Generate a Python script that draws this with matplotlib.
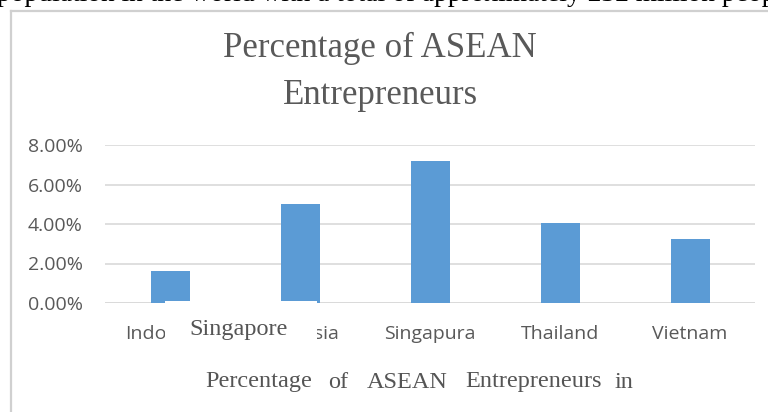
import matplotlib
matplotlib.use("Agg")
import matplotlib.pyplot as plt
from matplotlib.lines import Line2D
from matplotlib.patches import Rectangle

countries = ["Indonesia", "Malaysia", "Singapura", "Thailand", "Vietnam"]
percent = [1.6, 5.0, 7.2, 4.05, 3.25]
y_ticks = [0, 2, 4, 6, 8]
title_lines = ["Percentage of ASEAN", "Entrepreneurs"]
caption_words = ["Percentage", "of", "ASEAN", "Entrepreneurs", "in"]
top_text = "population in the world with a total of approximately 232 million people"
overlay_text = "Singapore"

W, H = 768, 412
fig = plt.figure(figsize=(W / 100, H / 100), dpi=100)
fig.patch.set_facecolor("white")

def fx(px):
    return px / W

def fy(py):
    return 1 - py / H

ax = fig.add_axes([fx(105), fy(303), fx(755) - fx(105), fy(145) - fy(303)])
x = range(len(countries))
ax.bar(x, percent, width=0.3, color="#5b9bd5", zorder=3)
ax.set_xlim(-0.5, len(countries) - 0.5)
ax.set_ylim(0, 8)
ax.set_yticks(y_ticks)
ax.set_yticklabels([f"{v:.2f}%" for v in y_ticks])
ax.set_xticks(list(x))
ax.set_xticklabels(countries)
for s in ax.spines.values():
    s.set_visible(False)
ax.grid(axis="y", color="#d9d9d9", linewidth=1.2, zorder=0)
ax.axhline(0, color="#d9d9d9", linewidth=1.2, zorder=2)
ax.tick_params(axis="both", length=0, colors="#595959", labelsize=14)
ax.tick_params(axis="y", pad=16)
ax.tick_params(axis="x", pad=16)
for lab in ax.get_xticklabels() + ax.get_yticklabels():
    lab.set_fontfamily("Open Sans")
    lab.set_color("#595959")

serif = ["Liberation Serif", "DejaVu Serif"]

# title
fig.text(fx(380), fy(48), title_lines[0], ha="center", va="center",
         fontsize=25, family=serif, color="#595959")
fig.text(fx(380), fy(96), title_lines[1], ha="center", va="center",
         fontsize=25, family=serif, color="#595959")

# frame of the chart box (scan)
fig.add_artist(Line2D([fx(11), fx(11)], [fy(11), fy(412)], color="#d0d0d0", linewidth=1.6))
fig.add_artist(Line2D([fx(11), fx(768)], [fy(11), fy(11)], color="#d0d0d0", linewidth=1.6))

# clipped document text at top
fig.text(fx(-3), fy(1.0), top_text, ha="left", va="baseline",
         fontsize=19.8, family=serif, color="black")

# white overlay box with "Singapore"
fig.add_artist(Rectangle((fx(165), fy(348)), fx(317) - fx(165), fy(301) - fy(348),
                         transform=fig.transFigure, facecolor="white",
                         edgecolor="none", zorder=10))
fig.text(fx(239), fy(329), overlay_text, ha="center", va="center",
         fontsize=17.5, family=serif, color="#555555", zorder=11)

# caption words (justified)
cap_x = [205, 328, 367, 465, 615]
for wx, word in zip(cap_x, caption_words):
    fig.text(fx(wx), fy(382), word, ha="left", va="center",
             fontsize=17.5, family=serif, color="#555555")

fig.savefig("out.png", dpi=100)
